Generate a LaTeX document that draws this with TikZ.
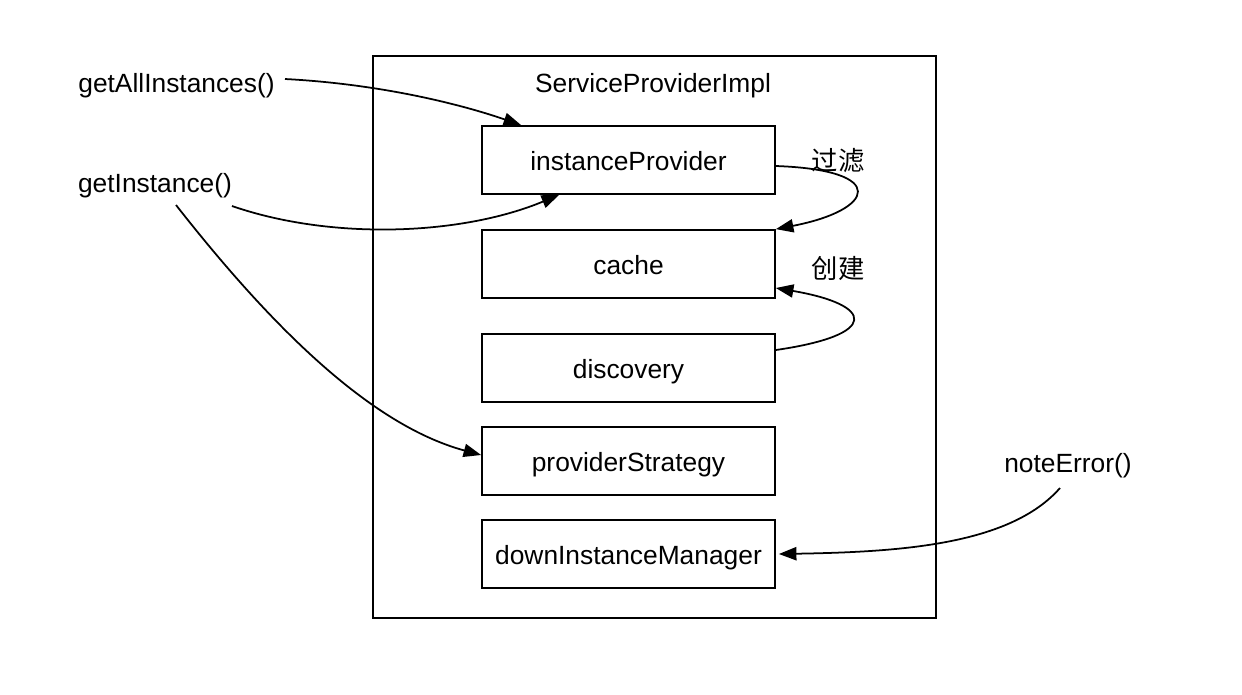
\documentclass[tikz,border=0pt]{standalone}
\usepackage{fontspec}
\setmainfont{Liberation Sans}
\newfontfamily\cjk{Noto Sans CJK SC}
\usetikzlibrary{arrows.meta}
\begin{document}
\begin{tikzpicture}[x=0.02cm,y=-0.02cm,
  font=\fontsize{15pt}{18pt}\selectfont,
  comp/.style={draw,line width=1pt,minimum width=5.86cm,minimum height=1.36cm,inner sep=0pt,text height=14.5pt,text depth=2.7pt},
  lbl/.style={inner sep=0pt,text height=14.5pt,text depth=2.7pt},
  conn/.style={line width=1pt,-{Triangle[length=10pt,width=7.5pt]}}]
\useasboundingbox (0,0) rectangle (1242,694);
\node[draw,line width=1pt,minimum width=11.26cm,minimum height=11.24cm,inner sep=0pt] (outer) at (654.5,337) {};
\node[lbl] (title) at (653,82) {ServiceProviderImpl};
\node[comp] (ip) at (628.5,160) {instanceProvider};
\node[comp] (cache) at (628.5,264) {cache};
\node[comp] (disc) at (628.5,368) {discovery};
\node[comp] (ps) at (628.5,461) {providerStrategy};
\node[comp] (dim) at (628.5,554) {downInstanceManager};
\node[lbl] (gai) at (176.5,82) {getAllInstances()};
\node[lbl] (gi) at (155,182) {getInstance()};
\node[lbl] (ne) at (1068,462) {noteError()};
\node[lbl] (gl) at (838,160) {\cjk 过滤};
\node[lbl] (cj) at (838,268) {\cjk 创建};
\draw[conn] ([shift={(108.5,-3)}]gai.center) .. controls (380,84) and (460,104) .. ([shift={(40,0)}]ip.north west);
\draw[conn] ([shift={(77,24)}]gi.center) .. controls (330,240) and (460,236) .. ([shift={(78,0)}]ip.south west);
\draw[conn] ([shift={(21,23)}]gi.center) .. controls (270,325) and (370,425) .. ([shift={(0,-6)}]ps.west);
\draw[conn] ([shift={(0,6)}]ip.east) .. controls (890,170) and (875,210) .. (cache.north east);
\draw[conn] ([shift={(0,-18)}]disc.east) .. controls (880,335) and (875,305) .. ([shift={(0,24)}]cache.east);
\draw[conn] ([shift={(-8,26)}]ne.center) .. controls (1010,545) and (900,552) .. ([shift={(3,0)}]dim.east);
\end{tikzpicture}
\end{document}
